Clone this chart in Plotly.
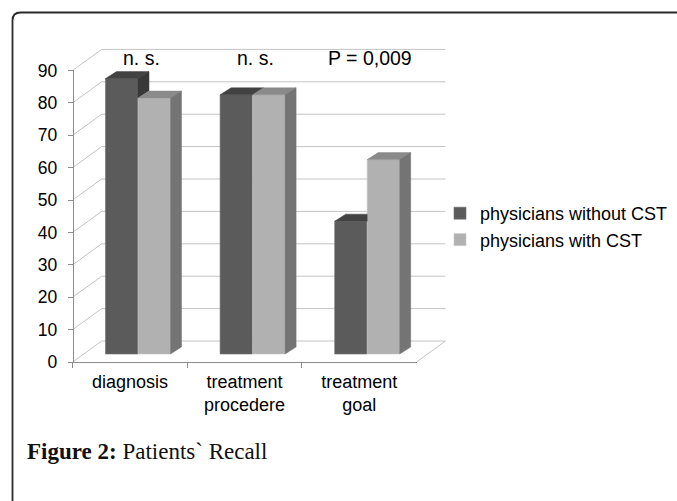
import plotly.graph_objects as go

# ---------------- data ----------------
categories = ["diagnosis", "treatment<br>procedere", "treatment<br>goal"]
without_cst = [85, 80, 41]
with_cst = [79, 80, 60]
significance = ["n. s.", "n. s.", "P = 0,009"]
y_ticks = [0, 10, 20, 30, 40, 50, 60, 70, 80, 90]
series_names = ["physicians without CST", "physicians with CST"]

# ---------------- geometry (pixels) ----------------
W, H = 677, 501
L, R, T, B = 60, 460, 40, 380          # plot area in pixels
CAT_PX = 114.6                          # pixels per category
Y_PX = 3.24                             # pixels per value unit
CAT0_PX = 138.0                         # bar plane: centre of first category
ZERO_PX = 354.0                         # bar plane: value 0
BW = 32.5 / CAT_PX                      # bar width in category units


def ddx(px):
    return px / CAT_PX


def ddy(px):
    return px / Y_PX


xr = [(L - CAT0_PX) / CAT_PX, (R - CAT0_PX) / CAT_PX]
yr = [(ZERO_PX - B) / Y_PX, (ZERO_PX - T) / Y_PX]


def paper_x(px):
    return (px - L) / (R - L)


def paper_y(py):
    return (B - py) / (B - T)


# plane offsets relative to the bar plane (pixels, +x right, +y up)
FRONT = (-8, -8)
BACK = (21, 13)
DEPTH = (11, 7)   # depth of one bar

DARK_FRONT, DARK_TOP, DARK_SIDE = "#5b5b5b", "#424242", "#383838"
LIGHT_FRONT, LIGHT_TOP, LIGHT_SIDE = "#b1b1b1", "#8a8a8a", "#747474"
GRID = "#c4c4c4"
AXIS = "#8c8c8c"
FONT = "Liberation Sans, Arial, sans-serif"

fig = go.Figure()

n = len(categories)
xs = list(range(n))

# front faces through the library's bar traces
fig.add_trace(go.Bar(
    x=xs, y=without_cst, width=BW, offset=-BW, name=series_names[0],
    marker=dict(color=DARK_FRONT, line=dict(color="#6e6e6e", width=0.6)),
))
fig.add_trace(go.Bar(
    x=xs, y=with_cst, width=BW, offset=0, name=series_names[1],
    marker=dict(color=LIGHT_FRONT, line=dict(color="#c8c8c8", width=0.6)),
))

DX, DY = ddx(DEPTH[0]), ddy(DEPTH[1])


def poly(points, xs_, ys_):
    for (px, py) in points:
        xs_.append(px)
        ys_.append(py)
    xs_.append(points[0][0])
    ys_.append(points[0][1])
    xs_.append(None)
    ys_.append(None)


dt_x, dt_y = [], []
ds_x, ds_y = [], []
lt_x, lt_y = [], []
ls_x, ls_y = [], []
for i in range(n):
    vd, vl = without_cst[i], with_cst[i]
    xl, xm, xe = i - BW, i, i + BW
    # dark top (and the visible part of its side)
    if vd >= vl:
        poly([(xl, vd), (xl + DX, vd + DY), (xm + DX, vd + DY), (xm, vd)], dt_x, dt_y)
        if vd > vl:
            poly([(xm, vl), (xm + DX, vl + DY), (xm + DX, vd + DY), (xm, vd)], ds_x, ds_y)
    else:
        poly([(xl, vd), (xl + DX, vd + DY), (xm, vd + DY), (xm, vd)], dt_x, dt_y)
    # light top & side
    poly([(xm, vl), (xm + DX, vl + DY), (xe + DX, vl + DY), (xe, vl)], lt_x, lt_y)
    poly([(xe, 0), (xe + DX, DY), (xe + DX, vl + DY), (xe, vl)], ls_x, ls_y)

for fx, fy, col in [(dt_x, dt_y, DARK_TOP), (ds_x, ds_y, DARK_SIDE),
                    (lt_x, lt_y, LIGHT_TOP), (ls_x, ls_y, LIGHT_SIDE)]:
    fig.add_trace(go.Scatter(
        x=fx, y=fy, fill="toself", fillcolor=col, mode="lines",
        line=dict(color=col, width=0.5), hoverinfo="skip", showlegend=False,
    ))

# dummy trace for the front-plane axes
fig.add_trace(go.Scatter(
    x=categories, y=[0] * n, xaxis="x2", yaxis="y2", mode="markers",
    marker=dict(opacity=0), hoverinfo="skip", showlegend=False,
))

# ---------------- walls / gridlines as shapes below traces ----------------
shapes = []
bx0 = -0.5 + ddx(BACK[0])
bx1 = n - 0.5 + ddx(BACK[0])
fx0 = -0.5 + ddx(FRONT[0])
fx1 = n - 0.5 + ddx(FRONT[0])
for v in y_ticks:
    shapes.append(dict(type="line", xref="x", yref="y", layer="below",
                       x0=bx0, x1=bx1, y0=v + ddy(BACK[1]), y1=v + ddy(BACK[1]),
                       line=dict(color=GRID, width=1)))
    shapes.append(dict(type="line", xref="x", yref="y", layer="below",
                       x0=fx0, x1=bx0, y0=v + ddy(FRONT[1]), y1=v + ddy(BACK[1]),
                       line=dict(color=GRID, width=1)))
shapes.append(dict(type="line", xref="x", yref="y", layer="below",
                   x0=fx1, x1=bx1, y0=ddy(FRONT[1]), y1=ddy(BACK[1]),
                   line=dict(color=GRID, width=1)))

# outer frame with rounded top-left corner
fl, ft, rad = paper_x(12.5), paper_y(12.5), 8
path = (f"M {paper_x(12.5)},{paper_y(W)} L {fl},{paper_y(12.5 + rad)} "
        f"Q {fl},{ft} {paper_x(12.5 + rad)},{ft} L {paper_x(W + 5)},{ft}")
shapes.append(dict(type="path", xref="paper", yref="paper", path=path,
                   line=dict(color="#2a2a2a", width=1.8)))

# ---------------- annotations ----------------
annotations = []
for i, s in enumerate(significance):
    annotations.append(dict(x=i + ddx(3), y=ddy(ZERO_PX - 58), xref="x", yref="y",
                            text=s, showarrow=False,
                            font=dict(family=FONT, size=19.5, color="#000")))
annotations.append(dict(
    x=paper_x(25), y=paper_y(452), xref="paper", yref="paper",
    xanchor="left", yanchor="middle", showarrow=False,
    text="<b>Figure 2:</b> Patients` Recall",
    font=dict(family="Liberation Serif, serif", size=23, color="#111"),
))

front_left_px = L + (fx0 - xr[0]) / (xr[1] - xr[0]) * (R - L)
front_right_px = L + (fx1 - xr[0]) / (xr[1] - xr[0]) * (R - L)
front_zero_px = ZERO_PX - FRONT[1]
front_top_px = front_zero_px - y_ticks[-1] * Y_PX

fig.update_layout(
    width=W, height=H,
    margin=dict(l=L, r=W - R, t=T, b=H - B, autoexpand=False),
    paper_bgcolor="white", plot_bgcolor="rgba(0,0,0,0)",
    barmode="overlay",
    showlegend=True,
    legend=dict(x=paper_x(440), y=paper_y(195), xanchor="left", yanchor="top",
                font=dict(family=FONT, size=18, color="#000"),
                bgcolor="rgba(0,0,0,0)", traceorder="normal"),
    xaxis=dict(range=xr, visible=False, fixedrange=True),
    yaxis=dict(range=yr, visible=False, fixedrange=True),
    xaxis2=dict(type="category", domain=[paper_x(front_left_px), paper_x(front_right_px)],
                anchor="free", position=paper_y(front_zero_px), range=[-0.5, n - 0.5],
                tickson="boundaries", ticks="outside", ticklen=5, tickcolor=AXIS,
                ticklabelstandoff=3,
                showline=True, linecolor=AXIS, linewidth=1, showgrid=False,
                tickfont=dict(family=FONT, size=18, color="#000"), fixedrange=True),
    yaxis2=dict(domain=[paper_y(front_zero_px), paper_y(front_top_px)],
                anchor="free", position=paper_x(front_left_px),
                range=[y_ticks[0], y_ticks[-1]], tickvals=y_ticks,
                ticks="outside", ticklen=5, tickcolor=AXIS, ticklabelstandoff=7,
                showline=True, linecolor=AXIS, linewidth=1, showgrid=False, zeroline=False,
                tickfont=dict(family=FONT, size=17.5, color="#000"), fixedrange=True),
    shapes=shapes,
    annotations=annotations,
)

fig.write_html("out.html", config={"displayModeBar": False},
               post_script="document.body.style.margin='0';")
